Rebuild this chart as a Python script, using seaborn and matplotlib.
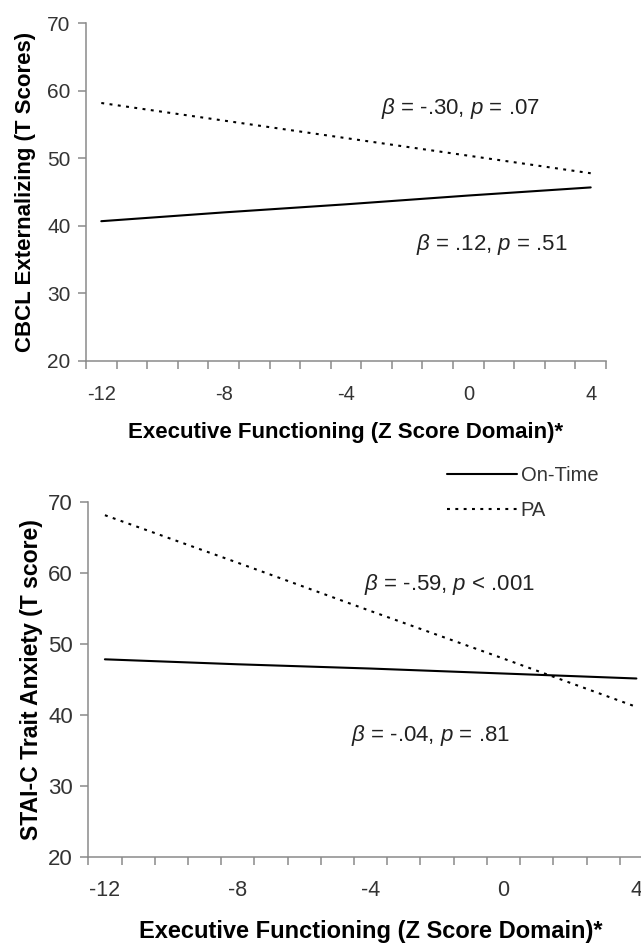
import matplotlib
matplotlib.use("Agg")
import matplotlib.pyplot as plt
import seaborn as sns
import pandas as pd
import numpy as np

# ---- data ----
x_vals = [-12, -8, -4, 0, 4]
top_ontime = [40.7, 42.0, 43.2, 44.5, 45.7]
top_pa = [58.2, 55.6, 53.0, 50.4, 47.8]
bot_ontime = [47.8, 47.1, 46.5, 45.8, 45.1]
bot_pa = [68.1, 61.4, 54.6, 47.9, 41.1]
groups = ["On-Time", "PA"]
x_tick_labels = ["-12", "-8", "-4", "0", "4"]
y_ticks = [20, 30, 40, 50, 60, 70]
top_ylabel = "CBCL Externalizing (T Scores)"
bot_ylabel = "STAI-C Trait Anxiety (T score)"
xlabel = "Executive Functioning (Z Score Domain)*"
top_notes = [(-2.85, 57.4, r"$\beta$ = -.30, $p$ = .07"),
             (-1.7, 37.2, r"$\beta$ = .12, $p$ = .51")]
bot_notes = [(-4.2, 58.3, r"$\beta$ = -.59, $p$ < .001"),
             (-4.6, 37.1, r"$\beta$ = -.04, $p$ = .81")]

sns.set_style("white")
plt.rcParams["font.family"] = ["Liberation Sans", "DejaVu Sans"]
plt.rcParams["mathtext.fontset"] = "custom"
plt.rcParams["mathtext.it"] = "Liberation Sans:italic"
plt.rcParams["mathtext.rm"] = "Liberation Sans"

def make_df(ont, pa):
    return pd.DataFrame({
        "x": x_vals + x_vals,
        "y": ont + pa,
        "group": [groups[0]] * len(x_vals) + [groups[1]] * len(x_vals),
    })

fig = plt.figure(figsize=(6.41, 9.44), dpi=100)
W, H = 641, 944
ax_top = fig.add_axes([86 / W, 1 - 361 / H, 520 / W, (361 - 23.3) / H])
ax_bot = fig.add_axes([88.3 / W, 1 - 856.7 / H, (653 - 88.3) / W, (856.7 - 501.7) / H])

dashes = {"On-Time": "", "PA": (1.4, 2.6)}
pal = {"On-Time": "black", "PA": "black"}
spine_col = "#8a8a8a"
text_col = "#333333"

configs = [
    (ax_top, (top_ontime, top_pa), top_notes, top_ylabel, False, 14.5, 15, 13, 8, 16, 16),
    (ax_bot, (bot_ontime, bot_pa), bot_notes, bot_ylabel, True, 15.5, 16, 13.5, 4, 17, 16.6),
]
for ax, (ont, pa), notes, ylab, show_leg, xts, yts, xlp, ylp, xls, yls in configs:
    df = make_df(ont, pa)
    sns.lineplot(data=df, x="x", y="y", hue="group", style="group",
                 palette=pal, dashes=dashes, linewidth=1.5, ax=ax,
                 legend=show_leg)
    ax.set_xlim(-12.5, 4.5)
    ax.set_ylim(20, 70)
    ax.set_yticks(y_ticks)
    ax.set_yticklabels([str(v) for v in y_ticks])
    ax.set_xticks(x_vals)
    ax.set_xticklabels(x_tick_labels)
    ax.set_xticks(np.arange(-12.5, 4.6, 1.0), minor=True)
    ax.tick_params(axis="x", which="major", length=0, pad=17, labelsize=xts,
                   labelcolor=text_col)
    ax.tick_params(axis="x", which="minor", length=6, width=1.1,
                   color=spine_col, direction="out", bottom=True)
    ax.tick_params(axis="y", which="major", length=6, width=1.1,
                   color=spine_col, direction="out", left=True, pad=5,
                   labelsize=yts, labelcolor=text_col)
    for s in ["top", "right"]:
        ax.spines[s].set_visible(False)
    for s in ["left", "bottom"]:
        ax.spines[s].set_color(spine_col)
        ax.spines[s].set_linewidth(1.1)
    ax.set_xlabel(xlabel, fontsize=xls, fontweight="bold", color="black",
                  labelpad=xlp)
    ax.set_ylabel(ylab, fontsize=yls, fontweight="bold", color="black",
                  labelpad=ylp)
    for (tx, ty, t) in notes:
        ax.text(tx, ty, t, fontsize=16, color="#222222", ha="left",
                va="center")

leg = ax_bot.get_legend()
handles = leg.legend_handles
labels = [t.get_text() for t in leg.get_texts()]
leg.remove()
fig.legend(handles, labels, loc="center left",
           bbox_to_anchor=(447 / W, 1 - 493.4 / H), frameon=False,
           fontsize=14.5, handlelength=3.5, handletextpad=0.15,
           labelspacing=0.8, borderpad=0, borderaxespad=0)
for t in fig.legends[0].get_texts():
    t.set_color(text_col)

fig.savefig("out.png", dpi=100)
